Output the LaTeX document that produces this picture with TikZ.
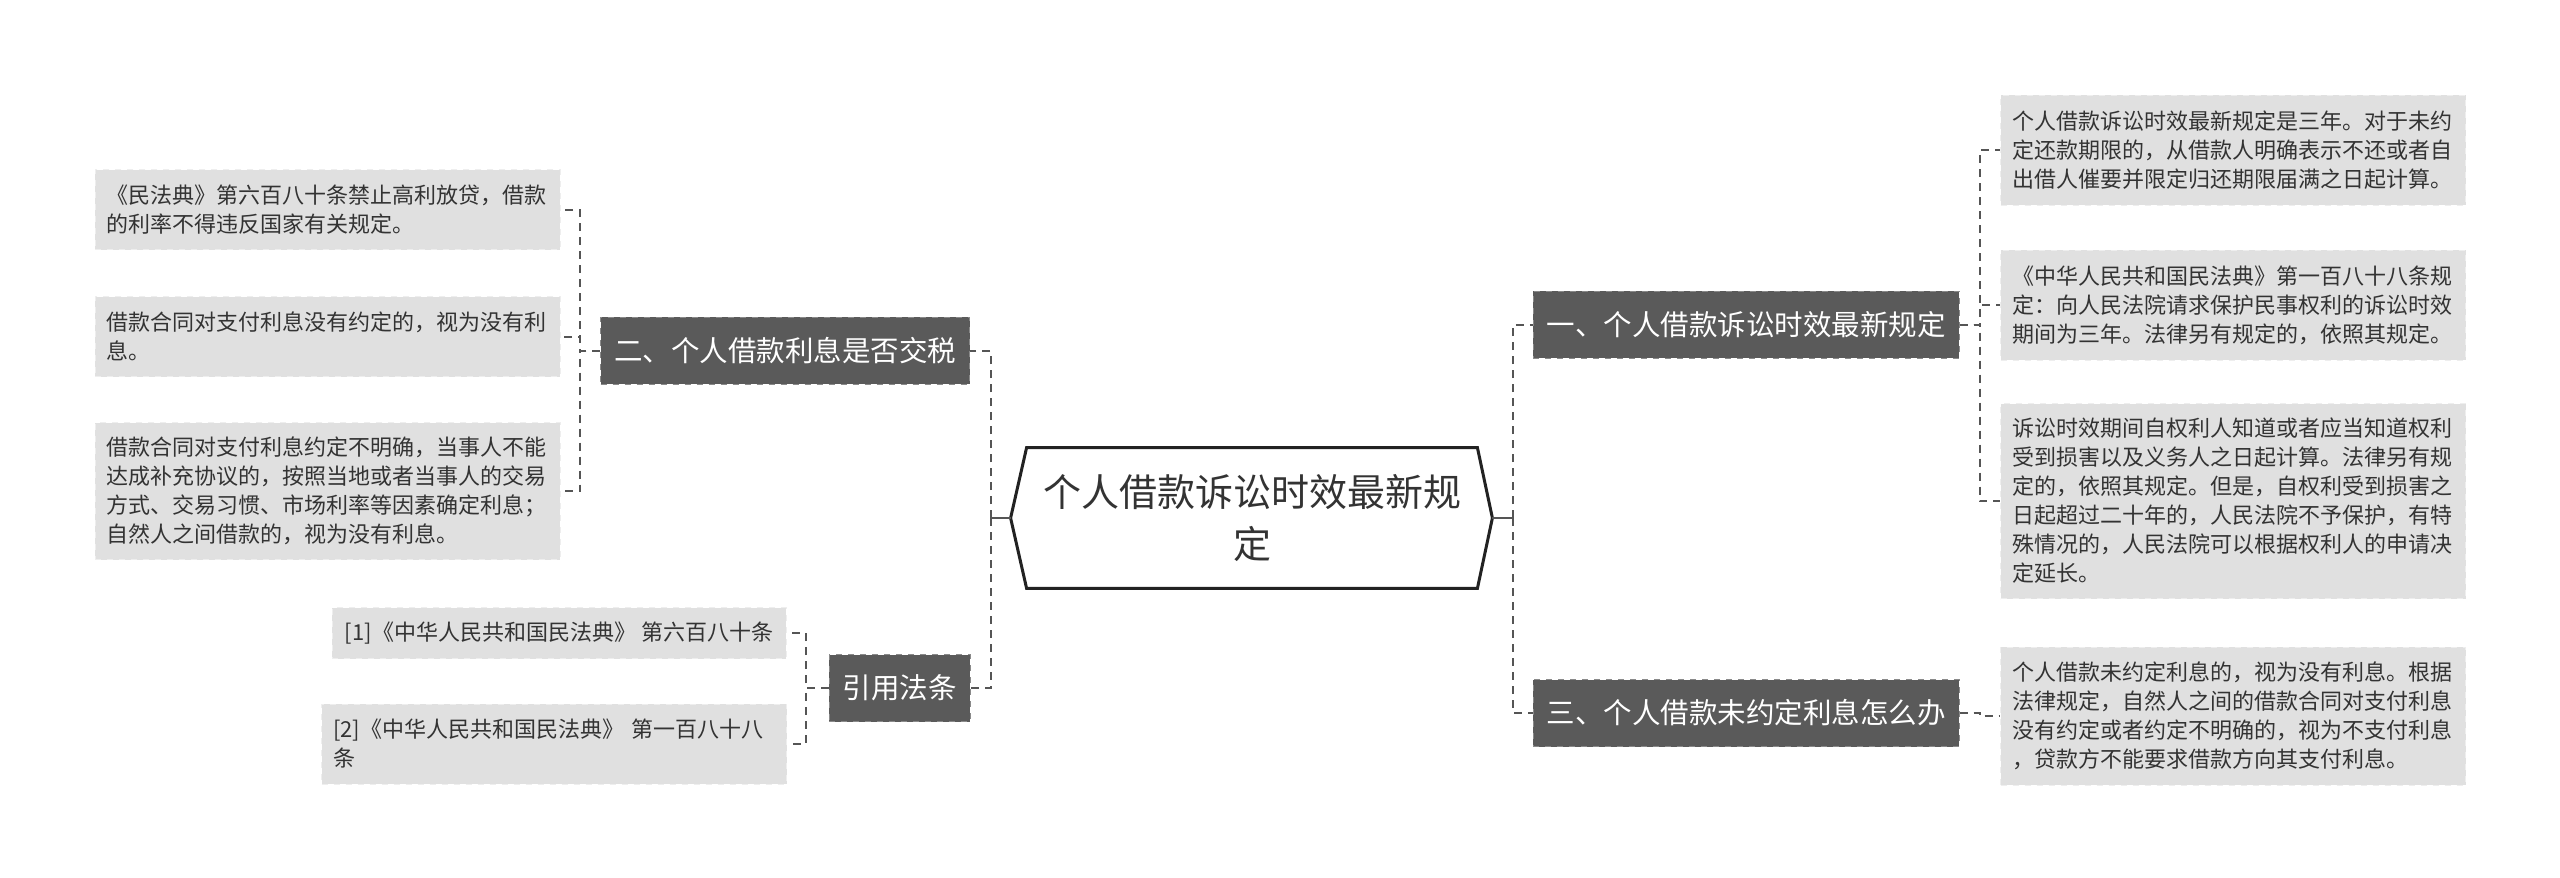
\documentclass[tikz,border=0pt]{standalone}
\usepackage{fontspec}
\setmainfont{Noto Sans CJK SC}
\usetikzlibrary{calc}
\definecolor{branchfill}{HTML}{5A5A5A}
\definecolor{branchline}{HTML}{8A8A8A}
\definecolor{leaffill}{HTML}{E0E0E0}
\definecolor{leafline}{HTML}{EEEEEE}
\definecolor{conncol}{HTML}{555555}
\definecolor{textdark}{HTML}{333333}
\definecolor{hexline}{HTML}{222222}
\tikzset{
  leafbase/.style={fill=leaffill, draw=leafline, dashed, line width=0.5pt,
    font=\fontsize{11pt}{14.5pt}\selectfont, align=left, text=textdark,
    inner xsep=5.75pt, inner ysep=0pt, anchor=center},
  leaf/.style={leafbase, text width=221pt},
  branchbox/.style={fill=branchfill, draw=branchline, dashed, line width=0.5pt,
    font=\fontsize{14.25pt}{18pt}\selectfont, text=white,
    inner xsep=6.75pt, inner ysep=0pt, minimum height=33.5pt, anchor=center},
  hubbox/.style={font=\fontsize{19pt}{26pt}\selectfont, align=center, text=textdark,
    minimum width=225pt, minimum height=70pt, inner sep=0pt, anchor=center},
  conn/.style={draw=conncol, line width=1pt, dash pattern=on 4pt off 3pt},
  stub/.style={draw=conncol, line width=1.2pt}
}
\begin{document}
\begin{tikzpicture}[x=0.5pt,y=-0.5pt]
\useasboundingbox[fill=white] (0,0) rectangle (2560,878);

% center
\node[hubbox] (c) at (1252,518) {个人借款诉讼时效最新规\\定};
\draw[hexline, line width=1.5pt, line join=miter]
  (c.north west) -- (c.north east) -- ($(c.east)+(15,0)$) -- (c.south east)
  -- (c.south west) -- ($(c.west)+(-16,0)$) -- cycle;
\coordinate (cL) at ($(c.west)+(-16,0)$);
\coordinate (cR) at ($(c.east)+(15,0)$);

% branches
\node[branchbox] (b2) at (785,350.5) {二、个人借款利息是否交税};
\node[branchbox] (bref) at (899.5,688) {引用法条};
\node[branchbox] (b1) at (1746,324.5) {一、个人借款诉讼时效最新规定};
\node[branchbox] (b3) at (1746,713) {三、个人借款未约定利息怎么办};

% left leaves
\node[leaf, minimum height=40pt] (l1) at (327.5,209.5) {《民法典》第六百八十条禁止高利放贷，借款\\的利率不得违反国家有关规定。};
\node[leaf, minimum height=40pt] (l2) at (327.5,336.5) {借款合同对支付利息没有约定的，视为没有利\\息。};
\node[leaf, minimum height=68.5pt] (l3) at (327.5,491) {借款合同对支付利息约定不明确，当事人不能\\达成补充协议的，按照当地或者当事人的交易\\方式、交易习惯、市场利率等因素确定利息；\\自然人之间借款的，视为没有利息。};
\node[leafbase, minimum width=227pt, minimum height=25.5pt] (r1) at (559,633) {[1]《中华人民共和国民法典》 第六百八十条};
\node[leaf, minimum height=40pt] (r2) at (554,744) {[2]《中华人民共和国民法典》 第一百八十八\\条};

% right leaves
\node[leaf, minimum height=55pt] (p1) at (2233,150) {个人借款诉讼时效最新规定是三年。对于未约\\定还款期限的，从借款人明确表示不还或者自\\出借人催要并限定归还期限届满之日起计算。};
\node[leaf, minimum height=55pt] (p2) at (2233,305) {《中华人民共和国民法典》第一百八十八条规\\定：向人民法院请求保护民事权利的诉讼时效\\期间为三年。法律另有规定的，依照其规定。};
\node[leaf, minimum height=97.5pt] (p3) at (2233,501) {诉讼时效期间自权利人知道或者应当知道权利\\受到损害以及义务人之日起计算。法律另有规\\定的，依照其规定。但是，自权利受到损害之\\日起超过二十年的，人民法院不予保护，有特\\殊情况的，人民法院可以根据权利人的申请决\\定延长。};
\node[leaf, minimum height=69pt] (p4) at (2233,716) {个人借款未约定利息的，视为没有利息。根据\\法律规定，自然人之间的借款合同对支付利息\\没有约定或者约定不明确的，视为不支付利息\\，贷款方不能要求借款方向其支付利息。};

% connectors from center
\draw[stub] (cL) -- ++(-20,0) coordinate (jL);
\draw[stub] (cR) -- ++(21,0) coordinate (jR);
\draw[conn] (jL) |- (b2.east);
\draw[conn] (jL) |- (bref.east);
\draw[conn] (jR) |- (b1.west);
\draw[conn] (jR) |- (b3.west);

% branch 二
\draw[conn] (b2.west) -- ++(-20,0) |- (l1.east);
\draw[conn] (b2.west) -- ++(-20,0) |- (l2.east);
\draw[conn] (b2.west) -- ++(-20,0) |- (l3.east);

% 引用法条
\draw[conn] (bref.west) -- ++(-23,0) |- (r1.east);
\draw[conn] (bref.west) -- ++(-23,0) |- (r2.east);

% branch 一
\draw[conn] (b1.east) -- ++(20,0) |- (p1.west);
\draw[conn] (b1.east) -- ++(20,0) |- (p2.west);
\draw[conn] (b1.east) -- ++(20,0) |- (p3.west);

% branch 三
\draw[conn] (b3.east) -- ++(20,0) |- (p4.west);
\end{tikzpicture}
\end{document}
